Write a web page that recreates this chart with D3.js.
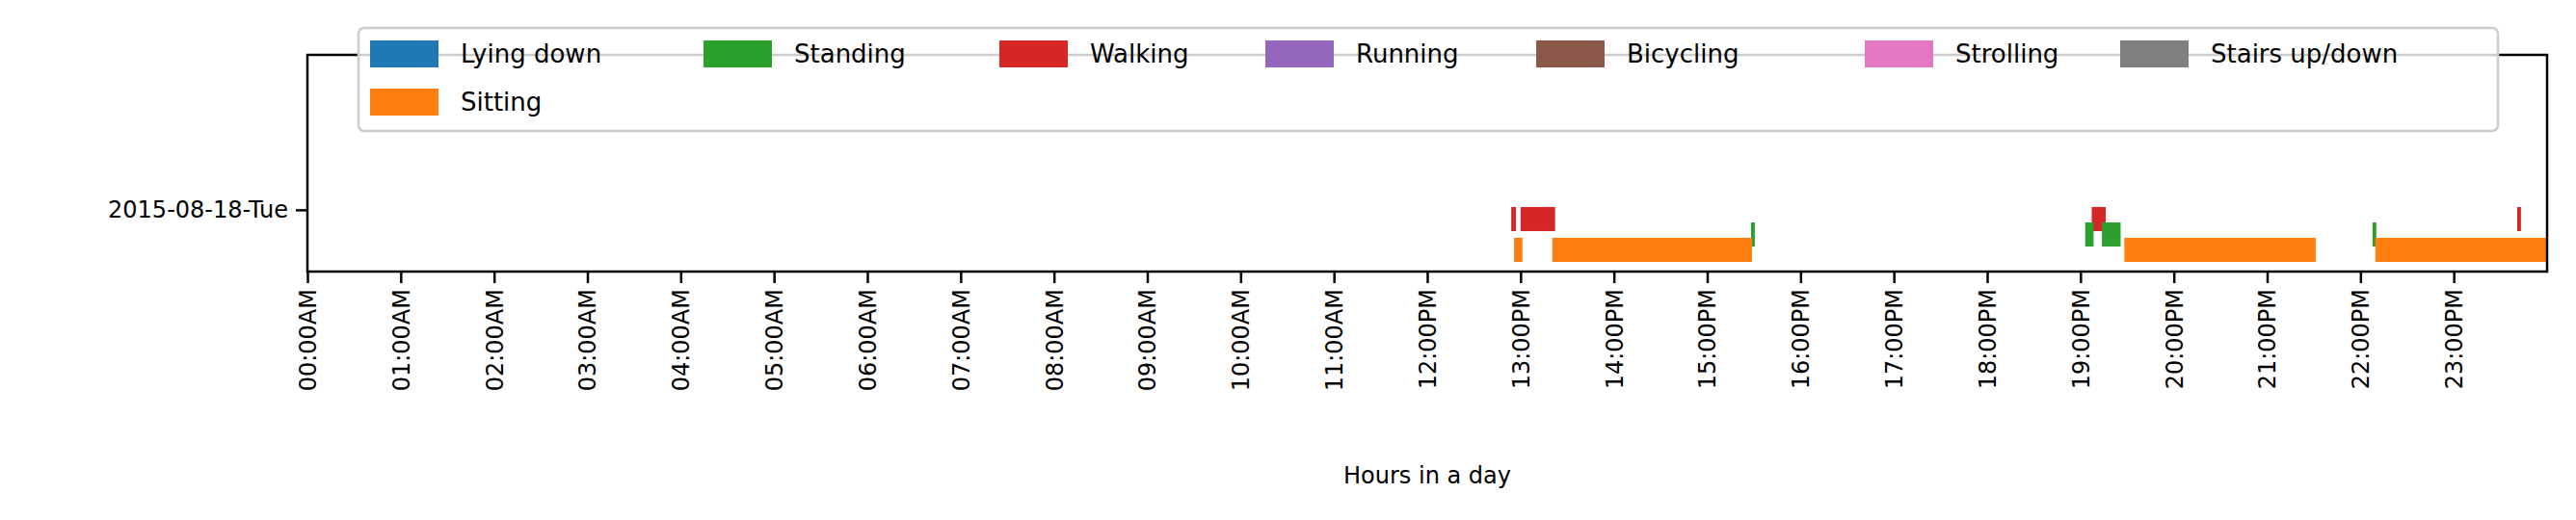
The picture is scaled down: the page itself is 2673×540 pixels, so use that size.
<!DOCTYPE html>
<html lang="en">
<head>
<meta charset="UTF-8">
<title>Activities in a day</title>
<script src="https://d3js.org/d3.v7.min.js"></script>
<style>
    body { margin: 0; background: white; }
    text { font-family: "DejaVu Sans", sans-serif; fill: black; }
</style>
</head>
<body>
<svg id="chart" width="2673" height="540"></svg>
<script>
    const width = 2673, height = 540;
    const activities = ["Lying down", "Sitting", "Standing", "Walking", "Running", "Bicycling", "Strolling", "Stairs up/down"];
    const colors = ["#1f77b4", "#ff7f0e", "#2ca02c", "#d62728", "#9467bd", "#8c564b", "#e377c2", "#7f7f7f"];
    const dayLabel = "2015-08-18-Tue";
    // [activity index, start hour, end hour]
    const segments = [
      [3, 12.90, 12.95], [3, 13.00, 13.37], [3, 19.12, 19.27], [3, 23.68, 23.72],
      [2, 15.47, 15.51], [2, 19.05, 19.14], [2, 19.23, 19.43], [2, 22.13, 22.17],
      [1, 12.93, 13.02], [1, 13.34, 15.48], [1, 19.47, 21.52], [1, 22.16, 24.0]
    ];
    const hourTicks = d3.range(24);
    const hourLabels = hourTicks.map(h => String(h).padStart(2, "0") + ":00" + (h < 12 ? "AM" : "PM"));

    const mLeft = 319, mRight = 2643, mTop = 57, mBottom = 282;
    const svg = d3.select("#chart");

    const x = d3.scaleLinear().domain([0, 24]).range([mLeft, mRight]);
    const y = d3.scaleLinear().domain([-0.41, 13.66]).range([mBottom, mTop]);
    const barH = 25;

    svg.selectAll("rect.seg").data(segments).enter().append("rect")
      .attr("class", "seg")
      .attr("x", d => x(d[1]))
      .attr("width", d => Math.max(2, x(d[2]) - x(d[1])))
      .attr("y", d => y(d[0]) - barH / 2)
      .attr("height", barH)
      .attr("fill", d => colors[d[0]]);

    // frame
    svg.append("rect").attr("x", mLeft).attr("y", mTop).attr("width", mRight - mLeft).attr("height", mBottom - mTop)
      .attr("fill", "none").attr("stroke", "black").attr("stroke-width", 2.5);

    // x axis
    const xAxis = svg.append("g").attr("transform", `translate(0,${mBottom})`)
      .call(d3.axisBottom(x).tickValues(hourTicks).tickFormat((d, i) => hourLabels[i]).tickSize(12).tickPadding(6));
    xAxis.select(".domain").remove();
    xAxis.selectAll("line").attr("stroke-width", 2.5);
    xAxis.selectAll("text")
      .style("font-size", "24px").style("font-family", "DejaVu Sans")
      .attr("transform", "rotate(-90)")
      .attr("text-anchor", "end")
      .attr("x", -18).attr("y", 0).attr("dy", "0.35em");

    // y axis
    const yAxis = svg.append("g").attr("transform", `translate(${mLeft},0)`)
      .call(d3.axisLeft(y).tickValues([3.6]).tickFormat(() => dayLabel).tickSize(12).tickPadding(8));
    yAxis.select(".domain").remove();
    yAxis.selectAll("line").attr("stroke-width", 2.5);
    yAxis.selectAll("text").style("font-size", "24px").style("font-family", "DejaVu Sans");

    svg.append("text").attr("x", (mLeft + mRight) / 2).attr("y", 502)
      .attr("text-anchor", "middle").style("font-size", "24px").text("Hours in a day");

    // legend
    const legend = svg.append("g");
    legend.append("rect").attr("x", 372).attr("y", 29).attr("width", 2220).attr("height", 107)
      .attr("rx", 6).attr("fill", "white").attr("fill-opacity", 0.8).attr("stroke", "#cccccc").attr("stroke-width", 2.5);
    const colX = [384, 730, 1037, 1313, 1594, 1935, 2200];
    const order = [0, 2, 3, 4, 5, 6, 7, 1];
    order.forEach((a, i) => {
      const cx = i < 7 ? colX[i] : colX[0];
      const cy = i < 7 ? 56 : 106;
      const g = legend.append("g");
      g.append("rect").attr("x", cx).attr("y", cy - 14).attr("width", 71).attr("height", 28).attr("fill", colors[a]);
      g.append("text").attr("x", cx + 94).attr("y", cy).attr("dy", "0.35em")
        .style("font-size", "26px").text(activities[a]);
    });
</script>
</body>
</html>
